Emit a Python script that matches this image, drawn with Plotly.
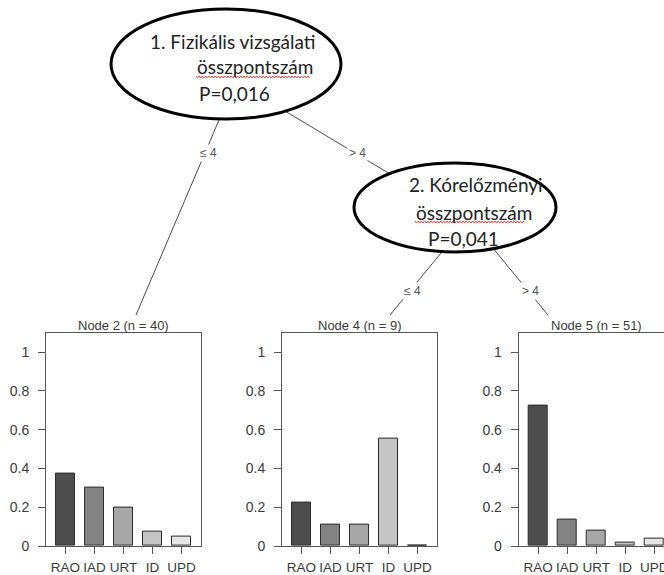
import plotly.graph_objects as go

W, H = 664, 575

# ---- data -------------------------------------------------------------
classes = ["RAO", "IAD", "URT", "ID", "UPD"]
bar_colors = ["#4D4D4D", "#838383", "#A7A7A7", "#C5C5C5", "#E6E6E6"]

node2_props = [0.375, 0.300, 0.200, 0.075, 0.050]
node4_props = [0.222, 0.111, 0.111, 0.556, 0.000]
node5_props = [0.725, 0.137, 0.078, 0.020, 0.039]

node_titles = ["Node 2 (n = 40)", "Node 4 (n = 9)", "Node 5 (n = 51)"]

y_tick_vals = [0, 0.2, 0.4, 0.6, 0.8, 1]
y_tick_text = ["0", "0.2", "0.4", "0.6", "0.8", "1"]

split1_lines = ["1. Fizikális vizsgálati", "összpontszám", "P=0,016"]
split2_lines = ["2. Kórelőzményi", "összpontszám", "P=0,041"]
edge_labels = ["≤ 4", "> 4", "≤ 4", "> 4"]


# ---- helpers: pixel -> paper coordinates ------------------------------
def fx(px):
    return px / W


def fy(py):
    return 1 - py / H


AXIS_GRAY = "#555555"
TEXT_GRAY = "#3a3a3a"

# terminal-node panels: left edge in px
px_per_unit = 29.0
x_lo = 0.33
panel_span = 5.34
panels = [
    (node2_props, 46),
    (node4_props, 282),
    (node5_props, 518.7),
]
y_bottom_px, y_unit_px = 546, 194
y_top_val = 1.1

fig = go.Figure()
layout_axes = {}
annotations = []

for i, (vals, left) in enumerate(panels, start=1):
    sfx = "" if i == 1 else str(i)
    last = i == len(panels)
    right = min(left + panel_span * px_per_unit, W)
    fig.add_trace(
        go.Bar(
            x=list(range(1, 6)),
            y=vals,
            width=0.66,
            marker=dict(color=bar_colors, line=dict(color="#2b2b2b", width=1)),
            xaxis="x" + sfx,
            yaxis="y" + sfx,
            hovertext=classes,
            showlegend=False,
        )
    )
    x_hi = x_lo + (right - left) / px_per_unit
    layout_axes["xaxis" + sfx] = dict(
        domain=[fx(left), fx(right)],
        range=[x_lo, x_hi],
        anchor="y" + sfx,
        tickvals=list(range(1, 6)),
        ticktext=classes,
        tickangle=0,
        ticks="outside",
        ticklen=7,
        tickcolor=AXIS_GRAY,
        ticklabelstandoff=2,
        ticklabeloverflow="allow",
        automargin=False,
        tickfont=dict(family="Liberation Sans, Arial", size=13.5, color=TEXT_GRAY),
        showline=True,
        mirror=True,
        linecolor=AXIS_GRAY,
        linewidth=1,
        showgrid=False,
        zeroline=False,
        fixedrange=True,
    )
    layout_axes["yaxis" + sfx] = dict(
        domain=[fy(y_bottom_px), fy(y_bottom_px - y_top_val * y_unit_px)],
        range=[0, y_top_val],
        anchor="x" + sfx,
        tickvals=y_tick_vals,
        ticktext=y_tick_text,
        ticks="outside",
        ticklen=7,
        tickcolor=AXIS_GRAY,
        ticklabelstandoff=6,
        automargin=False,
        tickfont=dict(family="Liberation Sans, Arial", size=14, color=TEXT_GRAY),
        showline=True,
        mirror=not last,
        linecolor=AXIS_GRAY,
        linewidth=1,
        showgrid=False,
        zeroline=False,
        fixedrange=True,
    )
    # node title above the panel frame
    annotations.append(
        dict(
            x=fx(left + panel_span * px_per_unit / 2),
            y=fy(325),
            xref="paper",
            yref="paper",
            text=node_titles[i - 1],
            showarrow=False,
            xanchor="center",
            yanchor="middle",
            font=dict(family="Liberation Sans, Arial", size=13, color=TEXT_GRAY),
        )
    )

# ---- tree edges (drawn first, ovals cover their upper ends) ----------
edges = [
    ((236, 80), (136, 315)),
    ((270, 102), (400, 180)),
    ((446, 247), (390, 315)),
    ((492, 247), (548, 315)),
]
shapes = []
for (x0, y0), (x1, y1) in edges:
    shapes.append(
        dict(
            type="line",
            xref="paper",
            yref="paper",
            x0=fx(x0),
            y0=fy(y0),
            x1=fx(x1),
            y1=fy(y1),
            line=dict(color="#4a4a4a", width=1),
        )
    )

# ---- split ovals ------------------------------------------------------
ovals = [(111, 9, 341, 119), (354, 163, 556, 252)]
for x0, y0, x1, y1 in ovals:
    shapes.append(
        dict(
            type="circle",
            xref="paper",
            yref="paper",
            x0=fx(x0),
            y0=fy(y1),
            x1=fx(x1),
            y1=fy(y0),
            fillcolor="white",
            line=dict(color="black", width=3),
        )
    )


# red spell-check squiggle under a word
def squiggle(xa, xb, yc):
    pts = []
    x = xa
    k = 0
    while x <= xb:
        pts.append((x, yc + (1.0 if k % 2 else -1.0)))
        x += 1.6
        k += 1
    d = "M " + " L ".join(f"{fx(px):.5f},{fy(py):.5f}" for px, py in pts)
    return dict(type="path", xref="paper", yref="paper", path=d,
                line=dict(color="#e04040", width=1))


# oval texts: (lines, left x of each line, centre y of each line, word width)
oval_text = [
    (split1_lines, [148, 195, 197], [42, 67, 93], 116),
    (split2_lines, [407, 414, 426], [185, 212, 238], 111),
]
for lines, xs, ys, word_w in oval_text:
    for txt, x, y in zip(lines, xs, ys):
        annotations.append(
            dict(
                x=fx(x), y=fy(y), xref="paper", yref="paper",
                text=txt, showarrow=False, xanchor="left", yanchor="middle",
                font=dict(family="Lato", size=19, color="#222222"),
            )
        )
    shapes.append(squiggle(xs[1] + 1, xs[1] + word_w, ys[1] + 10))

# edge labels
edge_label_pos = [(208, 153), (357, 153), (412, 291), (530, 291)]
for txt, (x, y) in zip(edge_labels, edge_label_pos):
    annotations.append(
        dict(
            x=fx(x), y=fy(y), xref="paper", yref="paper",
            text=txt, showarrow=False, xanchor="center", yanchor="middle",
            bgcolor="white", borderpad=1,
            font=dict(family="Liberation Sans, Arial", size=12, color="#555555"),
        )
    )

fig.update_layout(
    width=W,
    height=H,
    margin=dict(l=0, r=0, t=0, b=0, autoexpand=False),
    paper_bgcolor="white",
    plot_bgcolor="white",
    showlegend=False,
    bargap=0,
    shapes=shapes,
    annotations=annotations,
    **layout_axes,
)

fig.write_html("out.html")
